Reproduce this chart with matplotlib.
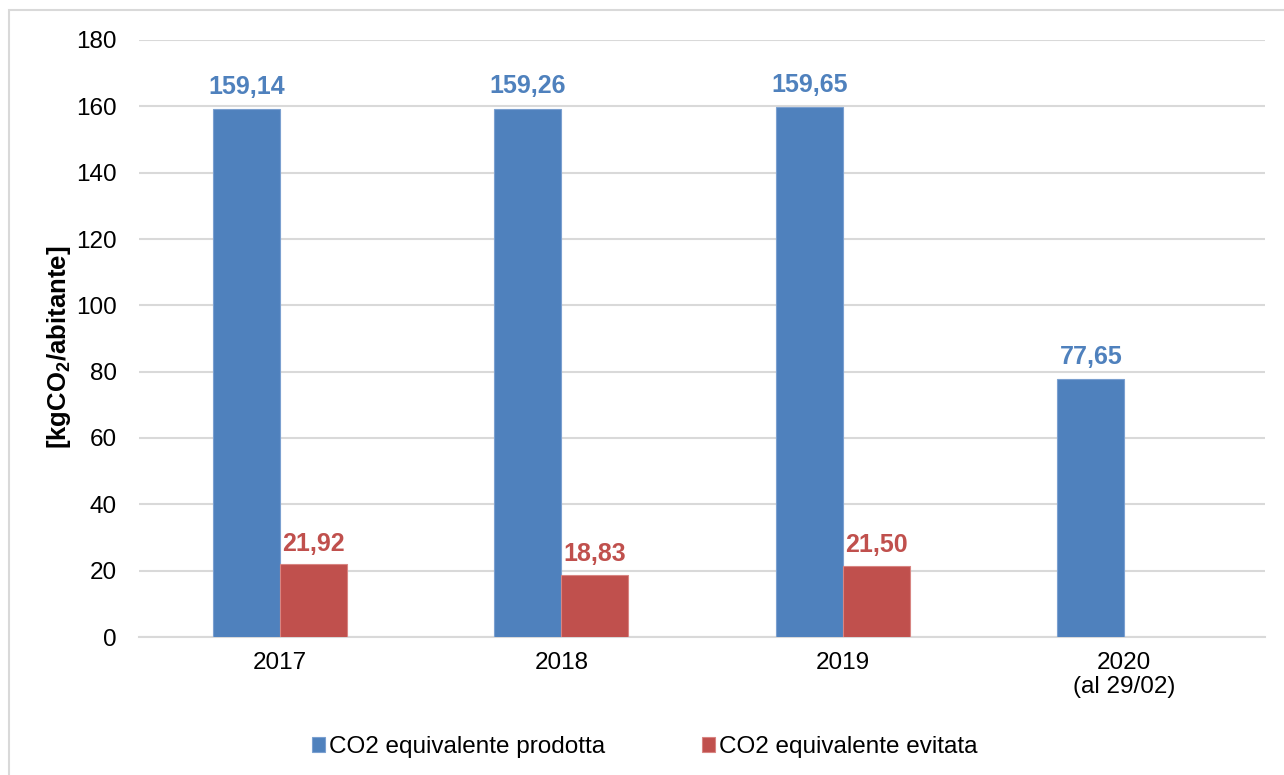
import numpy as np
import matplotlib.pyplot as plt
from matplotlib.patches import Rectangle

plt.rcParams['font.family'] = ['Liberation Sans', 'DejaVu Sans']
plt.rcParams['mathtext.fontset'] = 'custom'
plt.rcParams['mathtext.rm'] = 'Liberation Sans'
plt.rcParams['mathtext.bf'] = 'Liberation Sans:bold'

# data
categories = ['2017', '2018', '2019', '2020\n(al 29/02)']
prodotta = [159.14, 159.26, 159.65, 77.65]
evitata = [21.92, 18.83, 21.50, None]
series_names = ['CO2 equivalente prodotta', 'CO2 equivalente evitata']

blue = '#4F81BD'
red = '#C0504D'
grid_col = '#D9D9D9'

fig = plt.figure(figsize=(12.84, 7.75), dpi=100)
ax = fig.add_axes([139/1284, 1 - 637/775, (1265 - 139)/1284, (637 - 40)/775])

# light border round the chart area (only left and top are visible)
fig.patches.append(Rectangle((9/1284, -0.5), 2, 1.5 - 10/775, transform=fig.transFigure,
                             fill=False, edgecolor=grid_col, linewidth=1.5))

x = np.arange(len(categories))
w = 0.238

b1 = ax.bar(x - w/2, prodotta, w, color=blue, edgecolor='#7BA0D0', linewidth=0.8,
            label=series_names[0], zorder=3)
ev_x = [xi + w/2 for xi, v in zip(x, evitata) if v is not None]
ev_v = [v for v in evitata if v is not None]
b2 = ax.bar(ev_x, ev_v, w, color=red, edgecolor='#D88582', linewidth=0.8,
            label=series_names[1], zorder=3)

fs = 17.5
for xi, v in zip(x, prodotta):
    ax.text(xi - w/2, v + 3.2, f'{v:.2f}'.replace('.', ','), ha='center', va='bottom',
            color=blue, fontsize=18, fontweight='bold')
for xi, v in zip(ev_x, ev_v):
    ax.text(xi, v + 2.6, f'{v:.2f}'.replace('.', ','), ha='center', va='bottom',
            color=red, fontsize=18, fontweight='bold')

ax.set_xlim(-0.5, len(categories) - 0.5)
ax.set_ylim(0, 180)
ax.set_yticks(np.arange(0, 181, 20))
ax.set_xticks(x)
ax.set_xticklabels(categories, fontsize=fs, linespacing=1.1)
ax.tick_params(axis='y', labelsize=fs, length=0, pad=16)
ax.tick_params(axis='x', length=0, pad=11)
ax.yaxis.grid(True, color=grid_col, linewidth=1.5, zorder=0)
ax.set_axisbelow(True)
for s in ['top', 'right', 'left']:
    ax.spines[s].set_visible(False)
ax.spines['bottom'].set_color(grid_col)
ax.spines['bottom'].set_linewidth(1.5)

ax.set_ylabel(r'[kgCO$_\mathbf{2}$/abitante]', fontsize=18.5, fontweight='bold')
ax.yaxis.set_label_coords(-66/1126, 0.485)

fig.legend(handles=[b1, b2], loc='center', bbox_to_anchor=(0.502, 1 - 747/775),
           ncol=2, frameon=False, fontsize=fs, handlelength=0.55, handleheight=0.55,
           handletextpad=0.15, columnspacing=4.0)

fig.savefig('out.png', dpi=100)
